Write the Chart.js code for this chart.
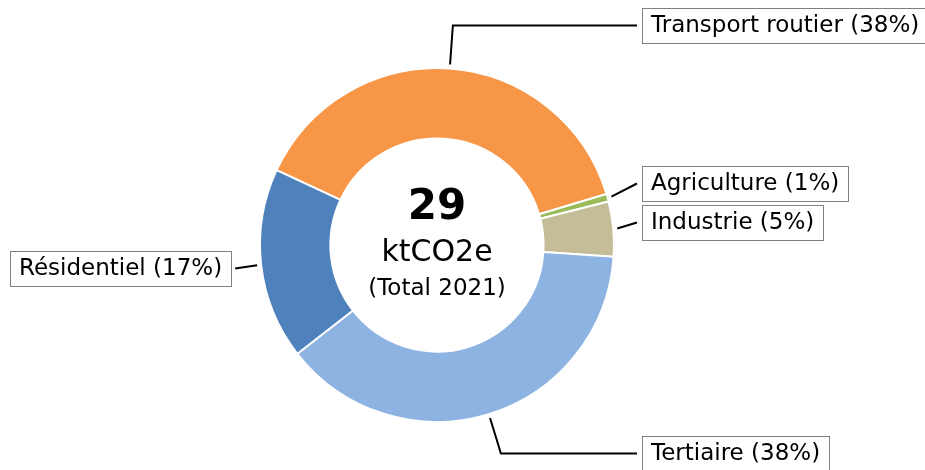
<!DOCTYPE html>
<html>
<head>
<meta charset="utf-8">
<script src="https://cdn.jsdelivr.net/npm/chart.js@4/dist/chart.umd.min.js"></script>
<style>
    html, body { margin: 0; padding: 0; background: #fff; }
    #wrap { width: 925px; height: 470px; position: relative; }
</style>
</head>
<body>
<div id="wrap"><canvas id="chart"></canvas></div>
<script>
// Emissions par secteur (ktCO2e, 2021)
const categories = ['Transport routier', 'Agriculture', 'Industrie', 'Tertiaire', 'Résidentiel'];
const values = [11.1, 0.2, 1.45, 11.1, 5.05];
const colors = ['#F79646', '#9BBB59', '#C4BD97', '#8DB3E2', '#4F81BD'];
const centerLines = ['ktCO2e', '(Total 2021)'];

// where each label box sits (left edge, vertical centre) and whether its leader bends
const labelLayout = [
    { x: 642, y: 25.5, elbow: true },
    { x: 642, y: 183.5, elbow: false },
    { x: 642, y: 222.5, elbow: false },
    { x: 642, y: 453.5, elbow: true },
    { x: 10, y: 268.5, elbow: false },
];

const total = values.reduce((a, b) => a + b, 0);
const FONT = '"DejaVu Sans", sans-serif';

const donutLabels = {
    id: 'donutLabels',
    afterDraw(chart) {
        const ctx = chart.ctx;
        const arcs = chart.getDatasetMeta(0).data;

        // centre text
        const cx = arcs[0].x, cy = arcs[0].y;
        ctx.save();
        ctx.fillStyle = '#000';
        ctx.textAlign = 'center';
        ctx.textBaseline = 'middle';
        ctx.font = 'bold 42px ' + FONT;
        ctx.fillText(String(Math.round(total)), cx, cy - 37);
        ctx.font = '30px ' + FONT;
        ctx.fillText(centerLines[0], cx, cy + 8);
        ctx.font = '23px ' + FONT;
        ctx.fillText(centerLines[1], cx, cy + 44);
        ctx.restore();

        // boxed labels with leader lines
        arcs.forEach((arc, i) => {
            const lay = labelLayout[i];
            const text = categories[i] + ' (' + Math.round(values[i] / total * 100) + '%)';
            ctx.save();
            ctx.font = '23px ' + FONT;
            const tw = ctx.measureText(text).width;
            const boxW = tw + 18, boxH = 35;
            const bx = lay.x, by = lay.y - boxH / 2;
            const rightSide = bx > arc.x;
            const edgeX = rightSide ? bx - 5 : bx + boxW + 4;

            const mid = (arc.startAngle + arc.endAngle) / 2;
            const r = arc.outerRadius + 4;
            const ax = arc.x + Math.cos(mid) * r;
            const ay = arc.y + Math.sin(mid) * r;

            ctx.strokeStyle = '#000';
            ctx.lineWidth = 2;
            ctx.beginPath();
            ctx.moveTo(ax, ay);
            if (lay.elbow) {
                const t = (lay.y - ay) / Math.sin(mid);
                ctx.lineTo(ax + Math.cos(mid) * t, lay.y);
            }
            ctx.lineTo(edgeX, lay.y);
            ctx.stroke();

            ctx.fillStyle = '#fff';
            ctx.fillRect(bx, by, boxW, boxH);
            ctx.strokeStyle = '#808080';
            ctx.lineWidth = 1;
            ctx.strokeRect(Math.round(bx) + 0.5, Math.round(by) + 0.5, Math.round(boxW), boxH);
            ctx.fillStyle = '#000';
            ctx.textAlign = 'left';
            ctx.textBaseline = 'middle';
            ctx.fillText(text, bx + 9, lay.y + 1);
            ctx.restore();
        });
    }
};

new Chart(document.getElementById('chart'), {
    type: 'doughnut',
    data: {
        labels: categories,
        datasets: [{
            data: values,
            backgroundColor: colors,
            borderColor: '#fff',
            borderWidth: 2,
        }]
    },
    options: {
        responsive: true,
        maintainAspectRatio: false,
        animation: false,
        rotation: -65,
        radius: 177,
        cutout: 106,
        layout: { padding: { left: 260, right: 311, top: 67, bottom: 47 } },
        plugins: {
            legend: { display: false },
            tooltip: { enabled: false },
        },
        events: [],
    },
    plugins: [donutLabels]
});
</script>
</body>
</html>
